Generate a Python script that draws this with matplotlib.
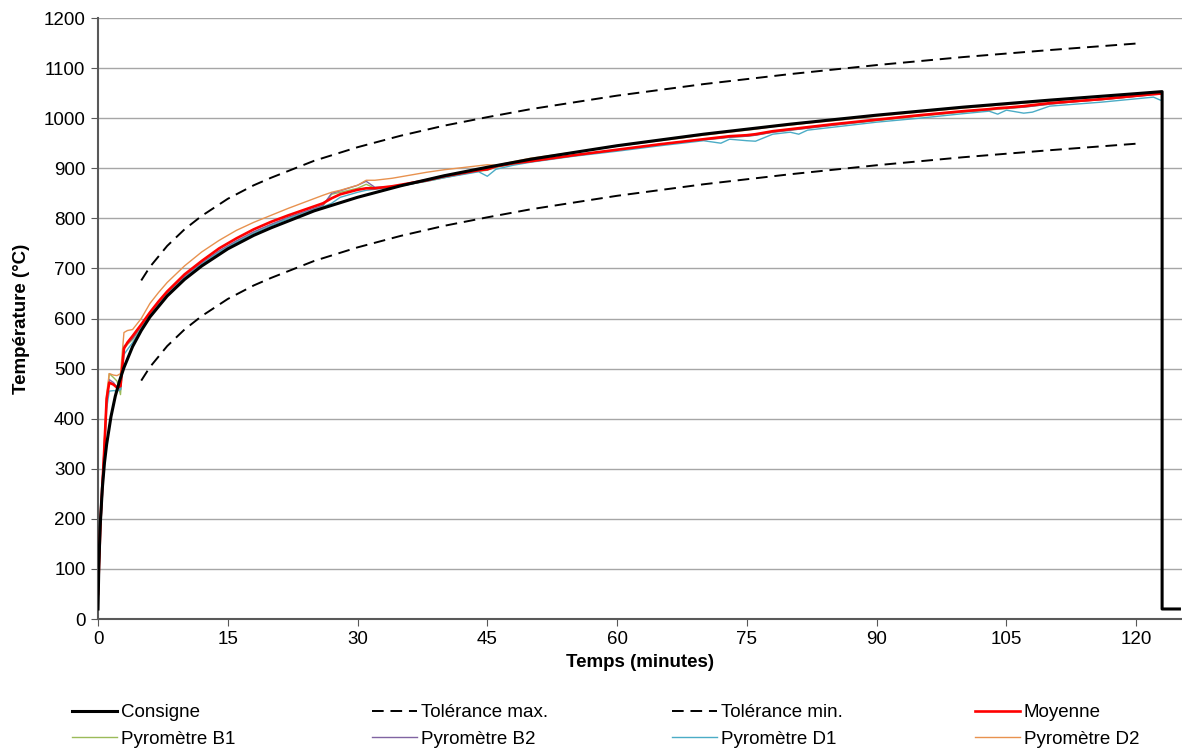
import matplotlib
matplotlib.use("Agg")
import matplotlib.pyplot as plt

plt.rcParams['font.family'] = ['Liberation Sans', 'DejaVu Sans']
plt.rcParams['font.size'] = 13.5

# Courbe de consigne (minutes, °C)
t_consigne = [0, 0.1, 0.25, 0.5, 0.75, 1, 1.5, 2, 2.5, 3, 4, 5, 6, 8, 10, 12, 15, 18, 20, 25,
              30, 35, 40, 45, 50, 60, 70, 80, 90, 100, 110, 120, 123, 123, 125]
consigne = [20, 108, 185, 261, 312, 349, 404, 445, 476, 502, 544, 576, 603, 645, 678, 705, 739, 766, 781, 815,
            842, 865, 885, 902, 918, 945, 968, 988, 1006, 1022, 1036, 1049, 1053, 20, 20]

# Tolérances
t_tol = [5, 6, 8, 10, 12, 15, 18, 20, 25, 30, 35, 40, 45, 50, 60, 70, 80, 90, 100, 110, 120]
tol_max = [676, 703, 745, 778, 805, 839, 866, 881, 915, 942, 965, 985, 1002, 1018, 1045, 1068, 1088, 1106, 1122, 1136, 1149]
tol_min = [476, 503, 545, 578, 605, 639, 666, 681, 715, 742, 765, 785, 802, 818, 845, 868, 888, 906, 922, 936, 949]

# Mesures
t_mes = [0, 0.3, 0.7, 1.0, 1.3, 1.8, 2.2, 2.6, 3.0, 3.4, 4.0, 5, 6, 7, 8, 10, 12, 14, 16, 18, 20, 22, 24, 26, 27, 28,
         30, 31, 32, 34, 36, 38, 40, 42, 44, 45, 46, 48, 50, 55, 60, 65, 70, 72, 73, 75, 76, 78, 80, 81, 82, 85,
         90, 95, 100, 103, 104, 105, 107, 108, 110, 113, 116, 119, 122, 122.8]
moyenne = [50, 200, 330, 440, 472, 468, 462, 465, 540, 552, 565, 588, 612, 634, 654, 688, 715, 740, 760, 778, 793,
           806, 818, 830, 840, 848, 857, 860, 860, 864, 870, 876, 884, 890, 896, 898, 904, 910, 914, 926, 937, 948,
           958, 962, 964, 966, 968, 974, 978, 980, 982, 988, 997, 1006, 1014, 1018, 1020, 1021, 1024, 1026, 1030,
           1034, 1038, 1043, 1048, 1049]
pyro_b1 = [45, 190, 320, 430, 490, 482, 475, 448, 540, 548, 558, 583, 608, 630, 650, 683, 710, 734, 754, 772, 787,
           801, 813, 825, 848, 852, 860, 868, 860, 862, 868, 874, 881, 888, 894, 896, 902, 908, 913, 925, 936, 947,
           957, 960, 962, 964, 966, 972, 976, 978, 980, 986, 995, 1004, 1012, 1016, 1018, 1019, 1022, 1024, 1028,
           1033, 1037, 1042, 1048, 1049]
pyro_b2 = [50, 210, 340, 440, 478, 472, 462, 458, 545, 550, 560, 585, 610, 632, 651, 684, 711, 735, 755, 773, 788,
           802, 814, 826, 850, 855, 866, 874, 862, 863, 868, 875, 882, 888, 895, 897, 903, 909, 914, 926, 937, 948,
           957, 960, 962, 964, 966, 972, 976, 978, 980, 986, 996, 1005, 1013, 1017, 1019, 1020, 1022, 1024, 1028,
           1033, 1037, 1042, 1047, 1048]
pyro_d1 = [30, 180, 310, 420, 455, 456, 455, 458, 528, 538, 552, 580, 606, 628, 648, 681, 708, 732, 752, 770, 785,
           799, 811, 823, 830, 842, 852, 856, 858, 862, 868, 874, 881, 887, 893, 884, 898, 906, 912, 924, 934, 945,
           955, 950, 958, 955, 954, 968, 972, 968, 976, 982, 992, 1000, 1009, 1014, 1008, 1016, 1010, 1012, 1024,
           1028, 1032, 1037, 1042, 1036]
pyro_d2 = [40, 190, 340, 450, 490, 487, 486, 490, 572, 576, 578, 600, 630, 652, 672, 705, 733, 756, 776, 792, 806,
           820, 833, 846, 852, 856, 866, 876, 876, 880, 886, 892, 897, 901, 905, 907, 906, 913, 920, 932, 944, 955,
           966, 970, 972, 976, 978, 983, 986, 988, 990, 995, 1004, 1012, 1020, 1024, 1026, 1027, 1030, 1031, 1034,
           1039, 1043, 1047, 1052, 1053]

fig = plt.figure(figsize=(11.82, 7.53), dpi=100)
ax = fig.add_axes([98 / 1182, 1 - 619 / 753, 1 - 98 / 1182, 601 / 753])

h_b1, = ax.plot(t_mes, pyro_b1, color='#9BBB59', lw=1.0, zorder=3, label='Pyromètre B1')
h_b2, = ax.plot(t_mes, pyro_b2, color='#8064A2', lw=1.0, zorder=3, label='Pyromètre B2')
h_d1, = ax.plot(t_mes, pyro_d1, color='#4BACC6', lw=1.0, zorder=3, label='Pyromètre D1')
h_d2, = ax.plot(t_mes, pyro_d2, color='#E8924F', lw=1.0, zorder=3, label='Pyromètre D2')
h_moy, = ax.plot(t_mes, moyenne, color='#FF0000', lw=1.9, zorder=4, label='Moyenne')
h_cons, = ax.plot(t_consigne, consigne, color='black', lw=2.2, zorder=5, label='Consigne')
h_max, = ax.plot(t_tol, tol_max, color='black', lw=1.4, dashes=(6, 3.5), zorder=5, label='Tolérance max.')
h_min, = ax.plot(t_tol, tol_min, color='black', lw=1.4, dashes=(6, 3.5), zorder=5, label='Tolérance min.')

ax.set_xlim(0, 125.3)
ax.set_ylim(0, 1200)
ax.set_xticks(range(0, 121, 15))
ax.set_yticks(range(0, 1201, 100))
ax.grid(axis='y', color='#A6A6A6', lw=1)
ax.set_axisbelow(True)
for s in ['top', 'right']:
    ax.spines[s].set_visible(False)
for s in ['left', 'bottom']:
    ax.spines[s].set_color('#595959')
    ax.spines[s].set_linewidth(1.5)
ax.tick_params(direction='out', length=5, color='#595959', labelsize=13.5, pad=4)
ax.set_xlabel('Temps (minutes)', fontweight='bold', fontsize=13.5, labelpad=4)
ax.set_ylabel('Température (°C)', fontweight='bold', fontsize=13.5, labelpad=10)

# légende sur 4 colonnes de largeur égale
colonnes = [[h_cons, h_b1], [h_max, h_b2], [h_min, h_d1], [h_moy, h_d2]]
x_col = [72, 372, 672, 975]
for hs, xc in zip(colonnes, x_col):
    fig.legend(handles=hs, loc='upper left', bbox_to_anchor=(xc / 1182, 1 - 704 / 753),
               frameon=False, fontsize=13.5, handlelength=2.4, handletextpad=0.2,
               borderpad=0, borderaxespad=0, labelspacing=0.5)

fig.savefig('out.png', dpi=100)
